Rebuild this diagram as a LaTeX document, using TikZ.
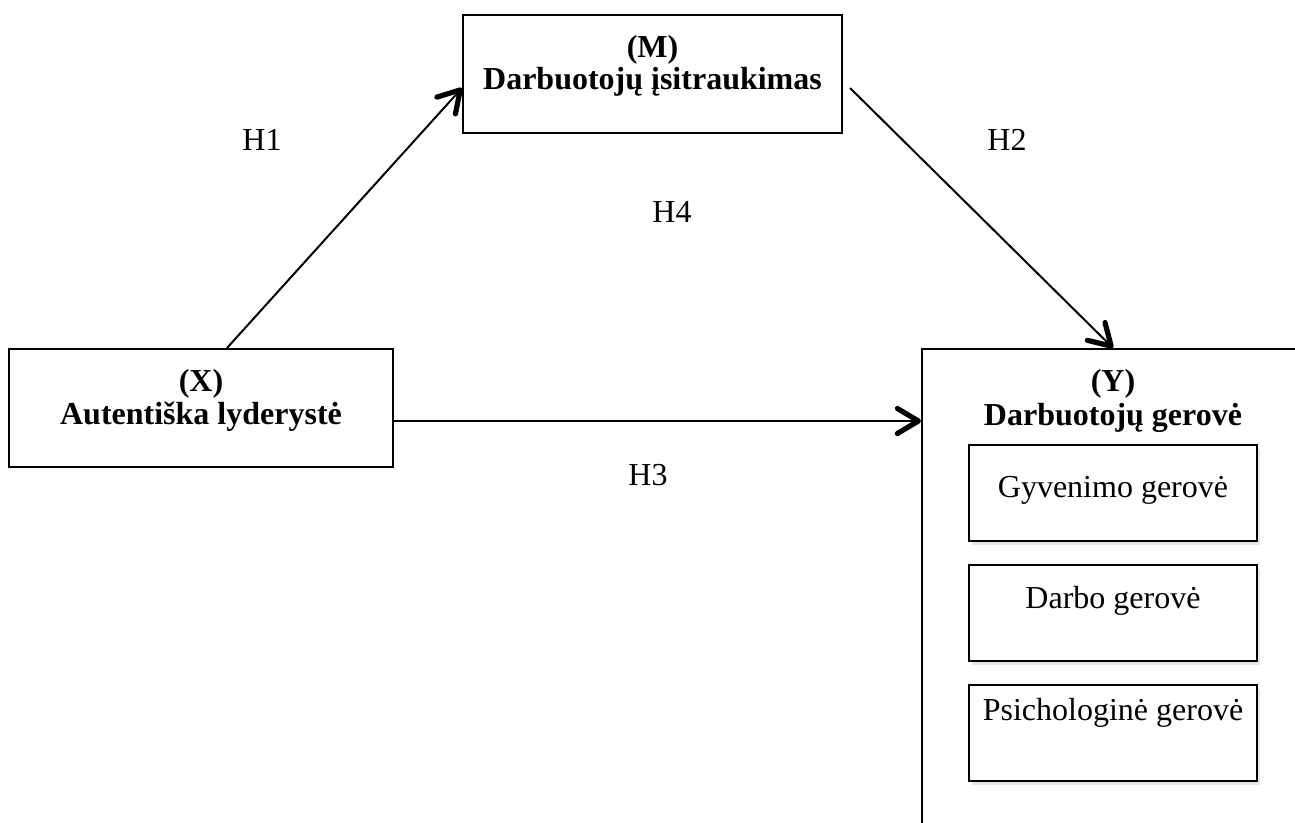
\documentclass[tikz,border=0pt]{standalone}
\usepackage{fontspec}
\setmainfont{Liberation Serif}
\usetikzlibrary{arrows.meta,shadows}

\begin{document}
\begin{tikzpicture}[x=0.5pt,y=-0.5pt,
  txt/.style={font=\fontsize{16}{19}\selectfont, inner sep=0pt, anchor=base},
  ttl/.style={txt, font=\fontsize{16}{19}\selectfont\bfseries},
  box/.style={draw, line width=1pt, inner sep=0pt},
  subbox/.style={box, fill=white, minimum width=144pt, minimum height=48pt,
    drop shadow={shadow xshift=1.5pt, shadow yshift=-2pt, opacity=0.2}},
  arr/.style={line width=1pt, -{Straight Barb[length=10.5pt,width=12.5pt,line width=2.6pt,round]}}]
% page frame
\useasboundingbox (0,0) rectangle (1295,823);
\clip (0,0) rectangle (1295,823);

% the three constructs
\node[box, minimum width=192pt, minimum height=59pt] (X) at (201,408) {};
\node[box, minimum width=189.5pt, minimum height=59pt] (M) at (652.5,74) {};
\node[box, minimum width=191pt, minimum height=250.5pt] (Y) at (1113,599.5) {}; % runs off the page

\node[ttl] (Xa) at (201,392) {(X)};
\node[ttl] (Xb) at (201,424) {Autentiška lyderystė};
\node[ttl] (Ma) at (652.5,58) {(M)};
\node[ttl] (Mb) at (652.5,90) {Darbuotojų įsitraukimas};
\node[ttl] (Ya) at (1113,392) {(Y)};
\node[ttl] (Yb) at (1113,425) {Darbuotojų gerovė};

% dimensions of well-being
\node[subbox] (Y1) at (1113,493) {};
\node[subbox] (Y2) at (1113,612.5) {};
\node[subbox] (Y3) at (1113,733) {};
\node[txt] (Y1t) at (1113,497) {Gyvenimo gerovė};
\node[txt] (Y2t) at (1113,608) {Darbo gerovė};
\node[txt] (Y3t) at (1113,720) {Psichologinė gerovė};

% paths
\draw[arr] ([xshift=13pt]X.north) -- ([yshift=-7pt]M.west);
\draw[arr] ([xshift=3.5pt,yshift=-7pt]M.east) -- (Y.north);
\draw[arr] ([yshift=-6.5pt]X.east) coordinate (h3) -- (h3 -| Y.west);

% hypotheses
\node[txt] (H1) at (262,151) {H1};
\node[txt] (H2) at (1007,151) {H2};
\node[txt] (H4) at (672,223) {H4};
\node[txt] (H3) at (648,485) {H3};
\end{tikzpicture}
\end{document}
